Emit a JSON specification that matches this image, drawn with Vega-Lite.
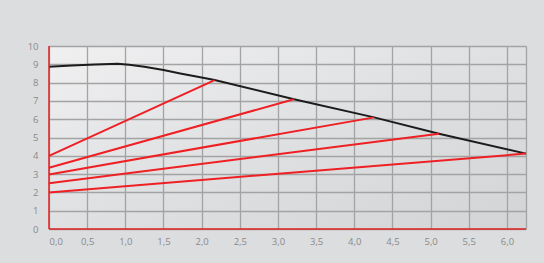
{
  "$schema": "https://vega.github.io/schema/vega-lite/v6.json",
  "autosize": {"type": "none"},
  "width": 477,
  "height": 183,
  "padding": {"left": 49, "top": 46, "right": 18, "bottom": 34},
  "background": "#dcdddf",
  "config": {
    "view": {
      "stroke": null,
      "fill": {"gradient": "linear", "x1": 0, "y1": 0, "x2": 1, "y2": 1, "stops": [{"offset": 0, "color": "#f0f0f1"}, {"offset": 0.5, "color": "#dfe0e2"}, {"offset": 1, "color": "#d3d4d6"}]}
    },
    "axis": {
      "labelFont": "Open Sans",
      "labelFontSize": 9.5,
      "labelColor": "#8a8a8a",
      "ticks": false,
      "domain": false,
      "gridColor": "#a3a3a3",
      "gridWidth": 1.3,
      "gridOpacity": 1,
      "title": null
    }
  },
  "datasets": {
    "lines": [
      {"s": "curve", "x": 0, "y": 8.87},
      {"s": "curve", "x": 0.3, "y": 8.93},
      {"s": "curve", "x": 0.6, "y": 8.99},
      {"s": "curve", "x": 0.9, "y": 9.03},
      {"s": "curve", "x": 1.05, "y": 8.98},
      {"s": "curve", "x": 1.25, "y": 8.87},
      {"s": "curve", "x": 1.5, "y": 8.69},
      {"s": "curve", "x": 1.72, "y": 8.5},
      {"s": "curve", "x": 2.0, "y": 8.28},
      {"s": "curve", "x": 2.17, "y": 8.14},
      {"s": "curve", "x": 3.21, "y": 7.09},
      {"s": "curve", "x": 4.26, "y": 6.1},
      {"s": "curve", "x": 5.11, "y": 5.21},
      {"s": "curve", "x": 6.25, "y": 4.12},
      {"s": "r1", "x": 0, "y": 4.0},
      {"s": "r1", "x": 2.17, "y": 8.14},
      {"s": "r2", "x": 0, "y": 3.35},
      {"s": "r2", "x": 3.21, "y": 7.09},
      {"s": "r3", "x": 0, "y": 2.98},
      {"s": "r3", "x": 4.26, "y": 6.1},
      {"s": "r4", "x": 0, "y": 2.5},
      {"s": "r4", "x": 5.11, "y": 5.21},
      {"s": "r5", "x": 0, "y": 2.0},
      {"s": "r5", "x": 6.25, "y": 4.12}
    ],
    "axisx": [{"y": 0}],
    "axisy": [{"x": 0}]
  },
  "layer": [
    {
      "data": {"name": "lines"},
      "mark": {"type": "line", "strokeWidth": 2},
      "encoding": {
        "x": {
          "field": "x", "type": "quantitative",
          "scale": {"domain": [0, 6.25], "nice": false, "zero": true},
          "axis": {"values": [0, 0.5, 1, 1.5, 2, 2.5, 3, 3.5, 4, 4.5, 5, 5.5, 6, 6.25], "labelExpr": "datum.value > 6.1 ? '' : replace(format(datum.value, '.1f'), '.', ',')", "labelPadding": 7}
        },
        "y": {
          "field": "y", "type": "quantitative",
          "scale": {"domain": [0, 10], "nice": false},
          "axis": {"values": [0, 1, 2, 3, 4, 5, 6, 7, 8, 9, 10], "labelPadding": 11}
        },
        "color": {
          "field": "s", "type": "nominal",
          "scale": {"domain": ["curve", "r1", "r2", "r3", "r4", "r5"], "range": ["#1c1c1c", "#ee2024", "#ee2024", "#ee2024", "#ee2024", "#ee2024"]},
          "legend": null
        },
        "order": {"field": "x", "type": "quantitative"}
      }
    },
    {
      "data": {"name": "axisx"},
      "mark": {"type": "rule", "color": "#e02020", "strokeWidth": 1.5},
      "encoding": {
        "y": {
          "field": "y", "type": "quantitative",
          "scale": {"domain": [0, 10], "nice": false},
          "axis": {"values": [0, 1, 2, 3, 4, 5, 6, 7, 8, 9, 10], "labelPadding": 11}
        }
      }
    },
    {
      "data": {"name": "axisy"},
      "mark": {"type": "rule", "color": "#e02020", "strokeWidth": 1.5},
      "encoding": {
        "x": {
          "field": "x", "type": "quantitative",
          "scale": {"domain": [0, 6.25], "nice": false, "zero": true},
          "axis": {"values": [0, 0.5, 1, 1.5, 2, 2.5, 3, 3.5, 4, 4.5, 5, 5.5, 6, 6.25], "labelExpr": "datum.value > 6.1 ? '' : replace(format(datum.value, '.1f'), '.', ',')", "labelPadding": 7}
        }
      }
    }
  ]
}
